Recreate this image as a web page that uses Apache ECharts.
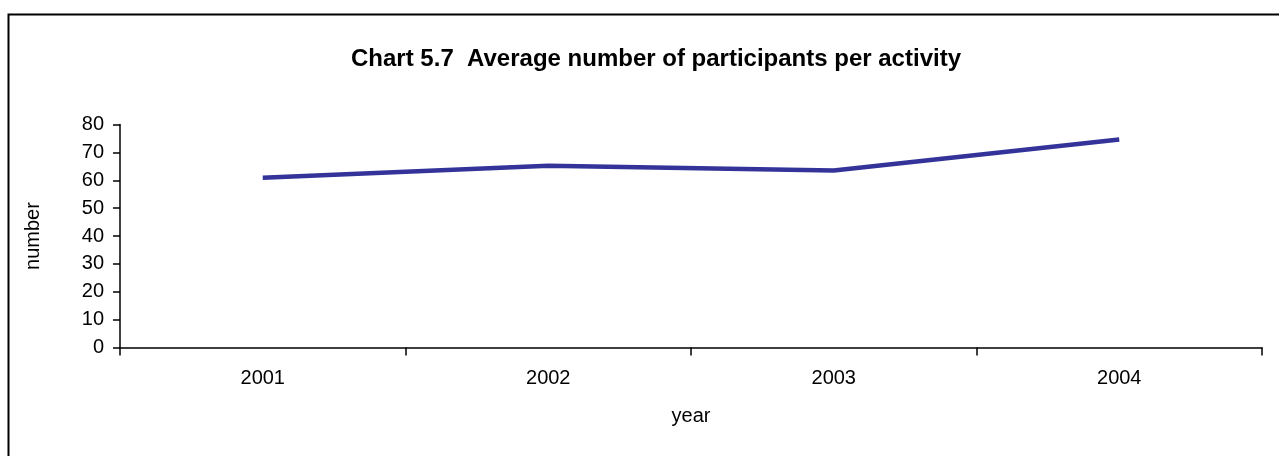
<!DOCTYPE html>
<html>
<head>
<meta charset="utf-8">
<script src="https://cdn.jsdelivr.net/npm/echarts@6/dist/echarts.min.js"></script>
<style>
html,body{margin:0;padding:0;background:#fff;}
#chart{width:1279px;height:456px;}
</style>
</head>
<body>
<div id="chart"></div>
<script>
const titleText = 'Chart 5.7  Average number of participants per activity';
const years = ['2001', '2002', '2003', '2004'];
const participants = [60.9, 65.2, 63.5, 74.6];
const yTicks = { min: 0, max: 80, interval: 10 };

const chart = echarts.init(document.getElementById('chart'), null, { renderer: 'canvas' });
const font = 'Liberation Sans, Arial, sans-serif';
chart.setOption({
  animation: false,
  backgroundColor: '#fff',
  graphic: [{
    type: 'rect',
    shape: { x: 8.5, y: 14.5, width: 1300, height: 500 },
    style: { fill: 'none', stroke: '#000', lineWidth: 2 },
    silent: true
  }],
  title: {
    text: titleText,
    left: 651, top: 42, textAlign: 'center',
    textStyle: { fontFamily: font, fontSize: 24, fontWeight: 'bold', color: '#000' }
  },
  grid: { left: 120, right: 17, top: 124.5, bottom: 108.5, containLabel: false },
  xAxis: {
    type: 'category',
    data: years,
    boundaryGap: true,
    name: 'year',
    nameLocation: 'middle',
    nameGap: 59,
    nameTextStyle: { fontFamily: font, fontSize: 20, color: '#000' },
    axisLine: { lineStyle: { color: '#000', width: 1.5 } },
    axisTick: { show: true, inside: false, length: 8, lineStyle: { color: '#000', width: 1.5 } },
    axisLabel: { fontFamily: font, fontSize: 20, color: '#000', margin: 21 },
    splitLine: { show: false }
  },
  yAxis: {
    type: 'value',
    min: yTicks.min, max: yTicks.max, interval: yTicks.interval,
    name: 'number',
    nameLocation: 'middle',
    nameGap: 77,
    nameRotate: 90,
    nameTextStyle: { fontFamily: font, fontSize: 20, color: '#000' },
    axisLine: { show: true, lineStyle: { color: '#000', width: 1.5 } },
    axisTick: { show: true, length: 7, lineStyle: { color: '#000', width: 1.5 } },
    axisLabel: { fontFamily: font, fontSize: 20, color: '#000', margin: 16 },
    splitLine: { show: false }
  },
  series: [{
    type: 'line',
    data: participants,
    showSymbol: false,
    symbol: 'none',
    lineStyle: { color: '#333399', width: 4.5 },
    itemStyle: { color: '#333399' }
  }]
});
</script>
</body>
</html>
